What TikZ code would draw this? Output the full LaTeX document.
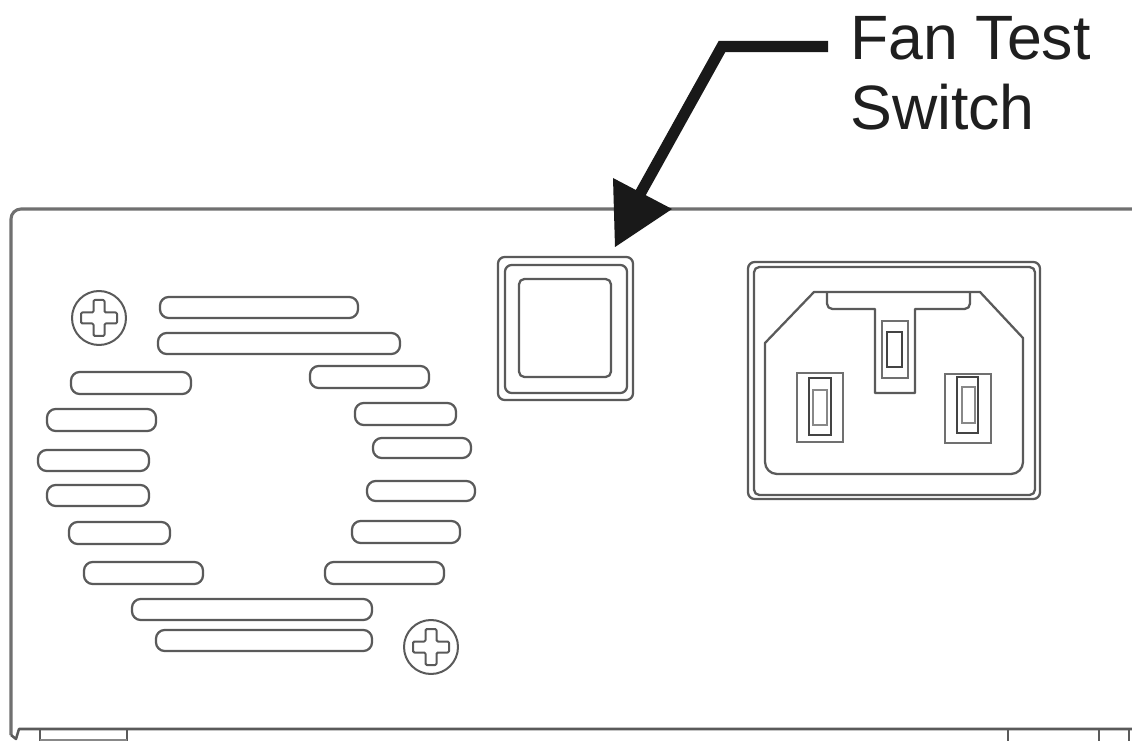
\documentclass[tikz,border=0pt]{standalone}
\usepackage{fontspec}
\setmainfont{Liberation Sans}
\definecolor{ink}{HTML}{5A5A5A}
\definecolor{inkdark}{HTML}{444444}
\definecolor{inkmid}{HTML}{707070}
\definecolor{inklight}{HTML}{888888}
\tikzset{
  pic scale/.style={x=0.75pt,y=-0.75pt},
  outline/.style={draw=ink,line width=1.9pt,line join=round},
  housing/.style={draw=inkmid,line width=2.3pt,line join=round},
  thin outline/.style={draw=ink,line width=1.7pt,line join=round},
  pin outer/.style={draw=inkmid,line width=2pt},
  pin mid/.style={draw=inkdark,line width=1.9pt},
  pin inner/.style={draw=inklight,line width=1.8pt},
  soft outline/.style={draw=inklight,line width=1.6pt},
  leader/.style={draw=black!90,line width=8.4pt,line join=miter},
  callout/.style={font=\fontsize{47pt}{52.5pt}\selectfont,align=left,text=black!88,inner sep=0pt,anchor=north west}
}
\newcommand{\slot}[4]{\draw[thin outline,rounded corners=6.5pt] (#1,#3) rectangle (#2,#4);}
\newcommand{\screw}[2]{%
  \begin{scope}[shift={(#1,#2)}]
    \draw[thin outline,line width=1.5pt] (0,0) circle[radius=27];
    \draw[thin outline,line width=1.5pt,rounded corners=1pt] (-5.5,-18)--(5.5,-18)--(5.5,-5.5)--(18,-5.5)--(18,5.5)--(5.5,5.5)--(5.5,18)--(-5.5,18)--(-5.5,5.5)--(-18,5.5)--(-18,-5.5)--(-5.5,-5.5)--cycle;
  \end{scope}}
\begin{document}
\begin{tikzpicture}[pic scale]
\useasboundingbox (0,0) rectangle (1132,741);
\fill[white] (0,0) rectangle (1132,741);
% housing
\draw[housing,rounded corners=7.5pt] (11,735) -- (11,209) -- (1132,209);
\draw[outline] (11,735) -- (16,739) -- (19,729) -- (1132,729);
\draw[outline] (40,729) -- (40,741);
\draw[outline] (127,729) -- (127,741);
\draw[soft outline] (40,740) -- (127,740);
\draw[outline] (1008,729) -- (1008,741);
\draw[outline] (1099,729) -- (1099,741);
\draw[outline] (1129,729) -- (1129,741);
% vent slots, left
\slot{160}{358}{297}{318}
\slot{158}{400}{333}{354}
\slot{71}{191}{372}{394}
\slot{47}{156}{409}{431}
\slot{38}{149}{450}{471}
\slot{47}{149}{485}{506}
\slot{69}{170}{522}{544}
\slot{84}{203}{562}{584}
\slot{132}{372}{599}{620}
\slot{156}{372}{630}{651}
% vent slots, right
\slot{310}{429}{366}{388}
\slot{355}{456}{403}{425}
\slot{373}{471}{438}{458}
\slot{367}{475}{481}{501}
\slot{352}{460}{521}{543}
\slot{325}{444}{562}{584}
% screws
\screw{99}{318}
\screw{431}{647}
% fan test switch
\draw[thin outline,rounded corners=5pt] (498,257) rectangle (633,400);
\draw[thin outline,rounded corners=5pt] (505,265) rectangle (627,393);
\draw[thin outline,rounded corners=4pt] (519,279) rectangle (611,377);
% power inlet
\draw[thin outline,rounded corners=5pt] (748,262) rectangle (1040,499);
\draw[thin outline,rounded corners=4pt] (754,267) rectangle (1035,495);
\draw[thin outline] (765,343) -- (814,292) -- (980,292) -- (1023,338) [rounded corners=9pt] -- (1023,474) -- (765,474) -- (765,420) [sharp corners] -- (765,343) -- cycle;
\draw[thin outline] (827,292) [rounded corners=4pt] -- (827,309) -- (850,309) [sharp corners] -- (875,309) -- (875,393) -- (915,393) -- (915,309) -- (950,309) [rounded corners=4pt] -- (970,309) -- (970,292);
\draw[pin outer] (882,321) rectangle (908,378);
\draw[pin mid] (887,332) rectangle (902,367);
\draw[pin outer] (797,373) rectangle (843,442);
\draw[pin mid] (809,378) rectangle (831,435);
\draw[pin inner] (813,390) rectangle (827,425);
\draw[pin outer] (945,374) rectangle (991,443);
\draw[pin mid] (957,377) rectangle (978,433);
\draw[pin inner] (962,387) rectangle (975,423);
% callout
\node[callout] (fanlabel) at (850,16) {Fan Test\\Switch};
\coordinate (leaderstart) at (828,46.5);
\coordinate (leaderbend) at (722,46.5);
\coordinate (leaderend) at (640,194);
\draw[leader] (leaderstart) -- (leaderbend) -- (leaderend);
\fill[black!90] (613,178) -- (672,209) -- (615,247) -- cycle;
\end{tikzpicture}
\end{document}
